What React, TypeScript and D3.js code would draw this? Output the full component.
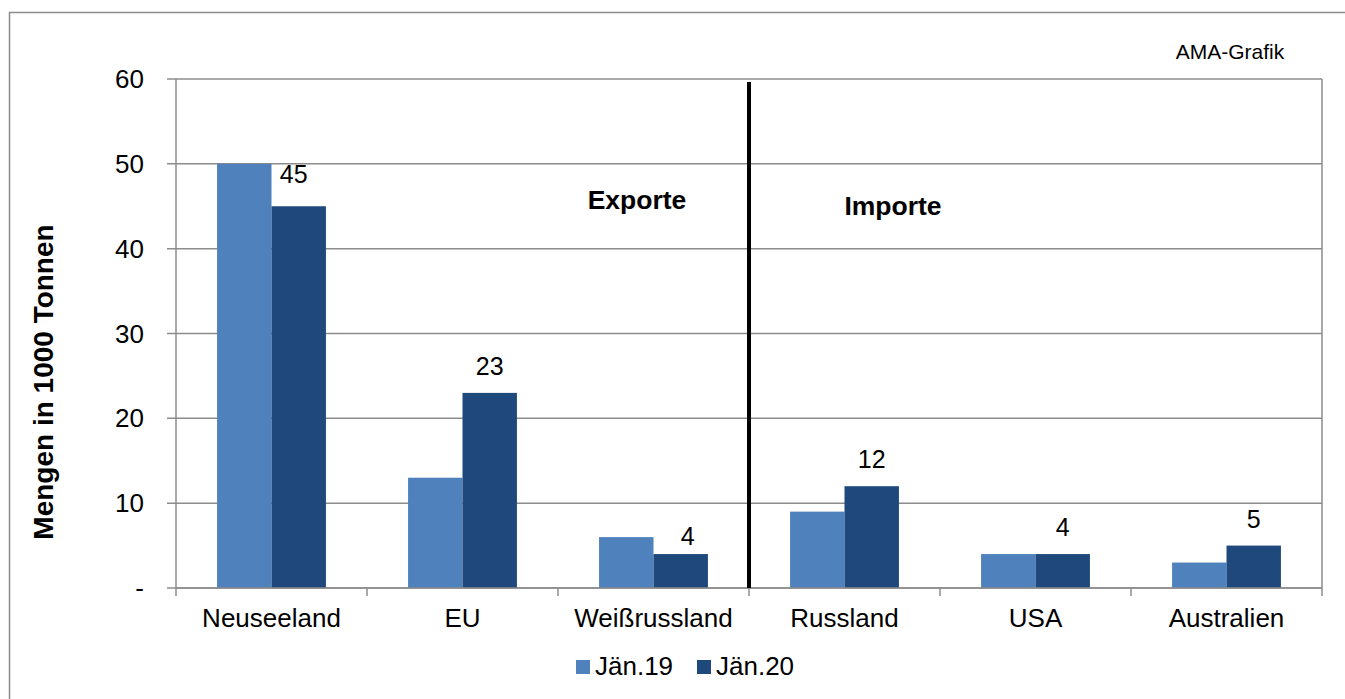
import React from "react";
import * as d3 from "d3";

const categories = ["Neuseeland", "EU", "Weißrussland", "Russland", "USA", "Australien"];
const seriesNames = ["Jän.19", "Jän.20"];
const jan19 = [50, 13, 6, 9, 4, 3];
const jan20 = [45, 23, 4, 12, 4, 5];
const yTicks = [0, 10, 20, 30, 40, 50, 60];
const colors = ["#4F81BD", "#1F497D"];

export default function App() {
  const W = 1345, H = 699;
  const left = 176, right = 1322, top = 79, bottom = 588;
  const x = d3.scaleBand<string>().domain(categories).range([left, right]).paddingInner(0).paddingOuter(0);
  const y = d3.scaleLinear().domain([0, 60]).range([bottom, top]);
  const bw = x.bandwidth();
  const barW = bw * 0.285;
  const font = "'Liberation Sans', Arial, sans-serif";
  const grid = "#8c8c8c";
  const sepX = x(categories[3])!;
  const labelGap = (i: number) => (i === 0 ? 23 : i === 2 ? 9 : 18);
  const labelDx = (i: number) => (i === 0 ? -5 : i === 2 ? 7 : 0);
  return (
    <svg width={W} height={H} style={{ position: "absolute", left: 0, top: 0, fontFamily: font }}>
      <rect x={0} y={0} width={W} height={H} fill="#fff" />
      <rect x={9.5} y={12.5} width={W + 20} height={H + 20} fill="none" stroke="#8c8c8c" strokeWidth={1.5} />
      {yTicks.map((t) => (
        <g key={t}>
          <line x1={left - 9} x2={right} y1={y(t)} y2={y(t)} stroke={grid} strokeWidth={1.5} />
          <text x={144} y={y(t)} dy="0.35em" textAnchor="end" fontSize={26} fill="#000">
            {t === 0 ? "-" : t}
          </text>
        </g>
      ))}
      <line x1={left} x2={left} y1={top} y2={bottom} stroke={grid} strokeWidth={1.5} />
      <line x1={right} x2={right} y1={top} y2={bottom + 8} stroke={grid} strokeWidth={1.5} />
      {categories.map((c, i) => (
        <line key={"t" + i} x1={x(c)!} x2={x(c)!} y1={bottom} y2={bottom + 8} stroke={grid} strokeWidth={1.5} />
      ))}
      {categories.map((c, i) => {
        const cx = x(c)! + bw / 2;
        return (
          <g key={c}>
            <rect x={cx - barW} y={y(jan19[i])} width={barW} height={bottom - y(jan19[i])} fill={colors[0]} />
            <rect x={cx} y={y(jan20[i])} width={barW} height={bottom - y(jan20[i])} fill={colors[1]} />
            <text x={cx + barW / 2 + labelDx(i)} y={y(jan20[i]) - labelGap(i)} textAnchor="middle" fontSize={25} fill="#000">
              {jan20[i]}
            </text>
            <text x={cx} y={627} textAnchor="middle" fontSize={26} fill="#000">
              {c}
            </text>
          </g>
        );
      })}
      <line x1={left} x2={right} y1={bottom} y2={bottom} stroke={grid} strokeWidth={1.5} />
      <line x1={sepX} x2={sepX} y1={82} y2={bottom} stroke="#000" strokeWidth={4} />
      <text x={637} y={209} textAnchor="middle" fontSize={26.5} fontWeight="bold">Exporte</text>
      <text x={893} y={215} textAnchor="middle" fontSize={26.5} fontWeight="bold">Importe</text>
      <text x={1230} y={59} textAnchor="middle" fontSize={21}>AMA-Grafik</text>
      <text transform={`translate(53,382) rotate(-90)`} textAnchor="middle" fontSize={28} fontWeight="bold">
        Mengen in 1000 Tonnen
      </text>
      {seriesNames.map((s, i) => (
        <g key={s} transform={`translate(${576 + i * 121},0)`}>
          <rect x={0} y={660} width={14} height={14} fill={colors[i]} />
          <text x={19} y={675} fontSize={26}>{s}</text>
        </g>
      ))}
    </svg>
  );
}
